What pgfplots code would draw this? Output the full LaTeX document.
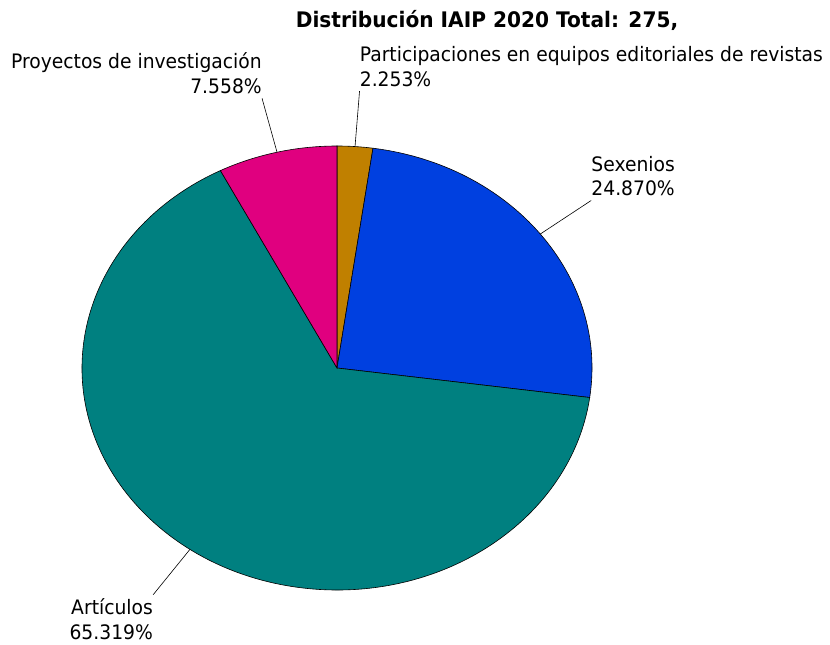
\documentclass[border=0pt]{standalone}
\usepackage{pgfplots}
\usepackage{pgfplotstable}
\pgfplotsset{compat=1.18}
\usepackage{fontspec}
\setmainfont[FakeStretch=0.94]{DejaVu Sans}

\definecolor{cPart}{HTML}{C08000}
\definecolor{cSex}{HTML}{0040E0}
\definecolor{cArt}{HTML}{008080}
\definecolor{cProy}{HTML}{E0007F}

% porcentajes, en sentido horario desde arriba
\pgfplotstableread{
value
2.253
24.870
65.319
7.558
}\datatable

\begin{document}
\begin{tikzpicture}
\pgfplotstablegetelem{0}{value}\of\datatable \let\vA\pgfplotsretval
\pgfplotstablegetelem{1}{value}\of\datatable \let\vB\pgfplotsretval
\pgfplotstablegetelem{2}{value}\of\datatable \let\vC\pgfplotsretval
\pgfplotstablegetelem{3}{value}\of\datatable \let\vD\pgfplotsretval
\pgfmathsetmacro{\aA}{90}
\pgfmathsetmacro{\aB}{\aA-3.6*\vA}
\pgfmathsetmacro{\aC}{\aB-3.6*\vB}
\pgfmathsetmacro{\aD}{\aC-3.6*\vC}
\pgfmathsetmacro{\aE}{\aD-3.6*\vD}
% angulos medios
\pgfmathsetmacro{\mA}{(\aA+\aB)/2}
\pgfmathsetmacro{\mB}{(\aB+\aC)/2}
\pgfmathsetmacro{\mC}{(\aC+\aD)/2}
\pgfmathsetmacro{\mD}{(\aD+\aE)/2}
\def\rx{255}
\def\ry{222}
\tikzset{lbl/.style={inner sep=0pt, font=\fontsize{20}{25}\selectfont}}
\begin{axis}[
    x=1bp, y=1bp,
    xmin=-337, xmax=493,
    ymin=-277, ymax=368,
    axis lines=none,
    ticks=none,
    clip=false,
    ]
    \addplot[draw=none] coordinates {(0,0)};
    \path (axis cs:-337,-277) rectangle (axis cs:493,368);
    \filldraw[fill=cPart, draw=black, line width=0.6pt] (axis cs:0,0) -- (axis cs:{\rx*cos(\aA)},{\ry*sin(\aA)}) arc[start angle=\aA, end angle=\aB, x radius=\rx bp, y radius=\ry bp] -- cycle;
    \filldraw[fill=cSex, draw=black, line width=0.6pt] (axis cs:0,0) -- (axis cs:{\rx*cos(\aB)},{\ry*sin(\aB)}) arc[start angle=\aB, end angle=\aC, x radius=\rx bp, y radius=\ry bp] -- cycle;
    \filldraw[fill=cArt, draw=black, line width=0.6pt] (axis cs:0,0) -- (axis cs:{\rx*cos(\aC)},{\ry*sin(\aC)}) arc[start angle=\aC, end angle=\aD, x radius=\rx bp, y radius=\ry bp] -- cycle;
    \filldraw[fill=cProy, draw=black, line width=0.6pt] (axis cs:0,0) -- (axis cs:{\rx*cos(\aD)},{\ry*sin(\aD)}) arc[start angle=\aD, end angle=\aE, x radius=\rx bp, y radius=\ry bp] -- cycle;

    % lineas guia y etiquetas
    \draw[line width=0.6pt] (axis cs:{\rx*cos(\mA)},{\ry*sin(\mA)}) -- (axis cs:{1.25*\rx*cos(\mA)},{1.25*\ry*sin(\mA)})
      node[lbl, anchor=south west, align=left, yshift=4bp] {Participaciones en equipos editoriales de revistas\\2.253\%};
    \draw[line width=0.6pt] (axis cs:{\rx*cos(\mB)},{\ry*sin(\mB)}) -- (axis cs:{1.25*\rx*cos(\mB)},{1.25*\ry*sin(\mB)})
      node[lbl, anchor=south west, align=left, yshift=4bp] {Sexenios\\24.870\%};
    \draw[line width=0.6pt] (axis cs:{\rx*cos(\mC)},{\ry*sin(\mC)}) -- (axis cs:{1.25*\rx*cos(\mC)},{1.25*\ry*sin(\mC)})
      node[lbl, anchor=north east, align=right, yshift=-4bp] {Artículos\\65.319\%};
    \draw[line width=0.6pt] (axis cs:{\rx*cos(\mD)},{\ry*sin(\mD)}) -- (axis cs:{1.25*\rx*cos(\mD)},{1.25*\ry*sin(\mD)})
      node[lbl, anchor=south east, align=right, yshift=4bp] {Proyectos de investigación\\7.558\%};

    \node[font=\bfseries\fontsize{21.5}{25}\selectfont] at (axis cs:150,348) {Distribución IAIP 2020 Total: 275,};
\end{axis}
\end{tikzpicture}
\end{document}
